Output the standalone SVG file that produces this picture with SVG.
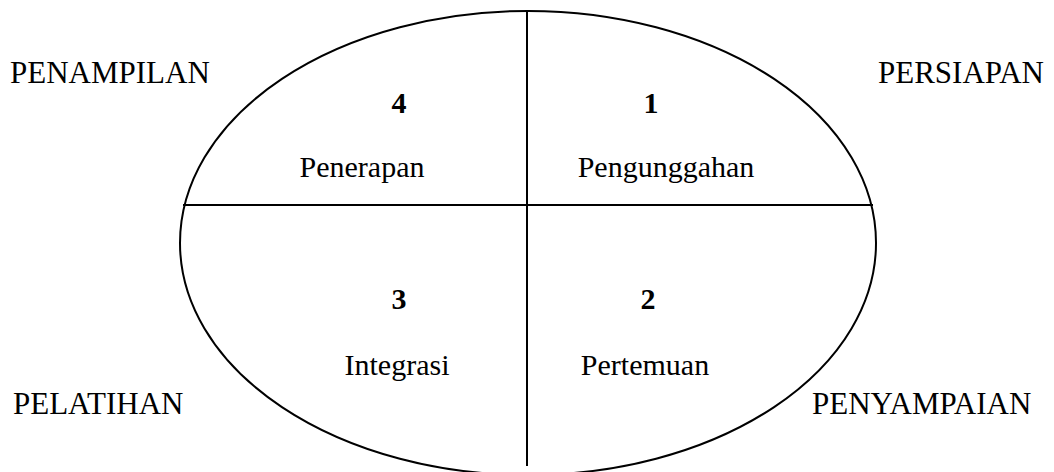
<svg xmlns="http://www.w3.org/2000/svg" width="1054" height="472" viewBox="0 0 1054 472">
<style>
text{font-family:"Liberation Serif","Times New Roman",serif;fill:#000}
.lbl{font-size:31px}
.in{font-size:30px;text-anchor:middle}
.num{font-size:30px;font-weight:bold;text-anchor:middle}
.ln{stroke:#000;stroke-width:2;fill:none}
</style>
<rect width="1054" height="472" fill="#fff"/>
<g id="shape">
<ellipse class="ln" cx="528" cy="243" rx="348" ry="232"/>
</g>
<g id="connectors">
<line class="ln" x1="527" y1="11" x2="527" y2="466"/>
<line class="ln" x1="183" y1="205" x2="873" y2="205"/>
</g>
<g id="q1"><text class="num" x="651" y="113">1</text><text class="in" x="666" y="177">Pengunggahan</text></g>
<g id="q2"><text class="num" x="648" y="309">2</text><text class="in" x="645" y="375">Pertemuan</text></g>
<g id="q3"><text class="num" x="399" y="309">3</text><text class="in" x="397" y="375">Integrasi</text></g>
<g id="q4"><text class="num" x="399" y="113">4</text><text class="in" x="362" y="177">Penerapan</text></g>
<g id="persiapan"><text class="lbl" x="878" y="83">PERSIAPAN</text></g>
<g id="penampilan"><text class="lbl" x="10" y="83">PENAMPILAN</text></g>
<g id="pelatihan"><text class="lbl" x="13" y="414">PELATIHAN</text></g>
<g id="penyampaian"><text class="lbl" x="812" y="414">PENYAMPAIAN</text></g>
</svg>
